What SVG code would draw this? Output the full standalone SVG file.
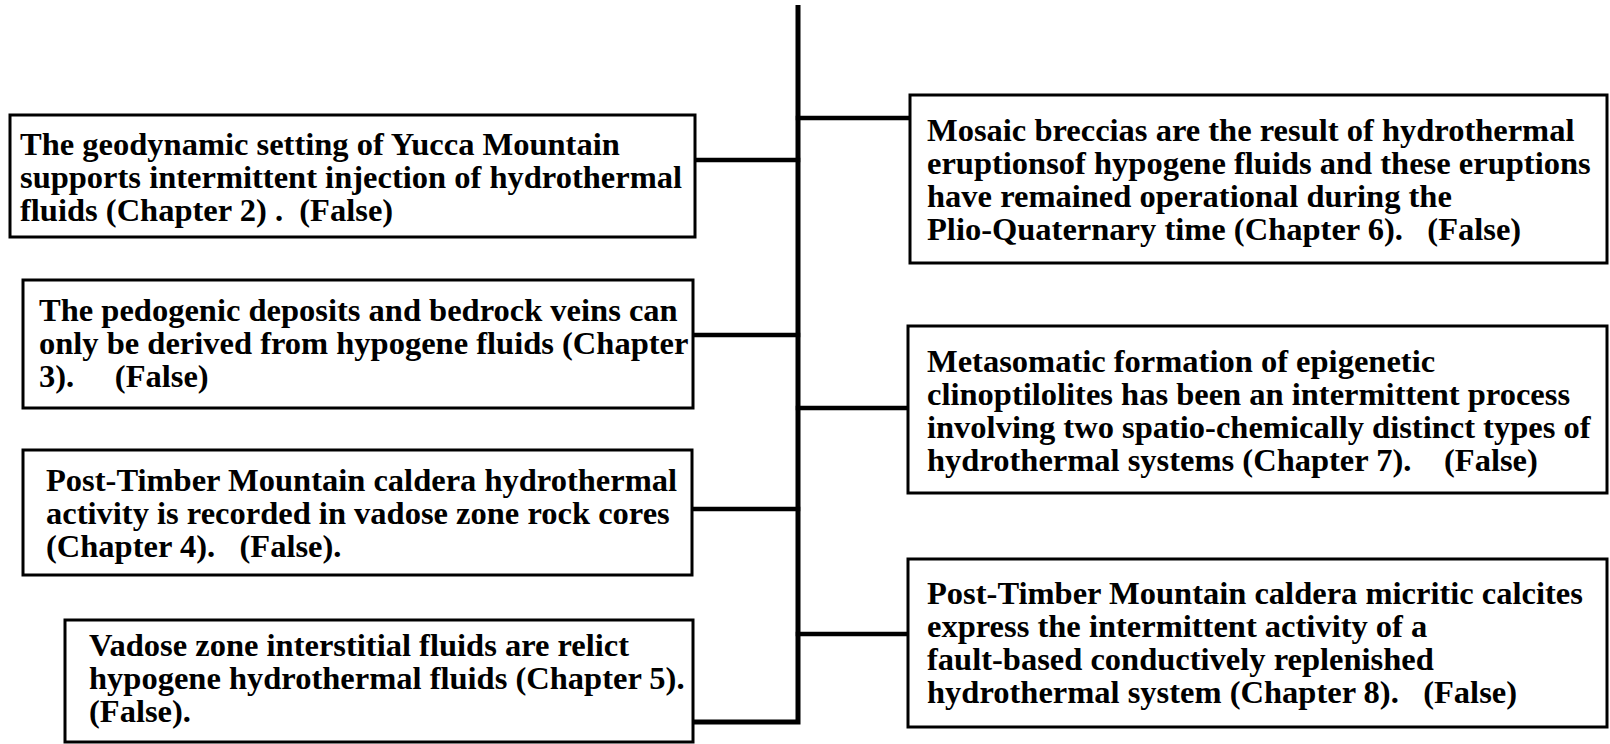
<svg xmlns="http://www.w3.org/2000/svg" width="1610" height="744" viewBox="0 0 1610 744">
  <style>
    .box { fill: #ffffff; stroke: #000000; stroke-width: 3; }
    .txt { font-family: "Liberation Serif", "Times New Roman", serif; font-weight: bold; font-size: 32.5px; fill: #000000; white-space: pre; }
    .wire { fill: none; stroke: #000000; stroke-width: 4.5; stroke-linecap: square; }
    .trunk { fill: none; stroke: #000000; stroke-width: 5; stroke-linejoin: miter; }
  </style>
  <rect width="1610" height="744" fill="#ffffff"/>

  <!-- central spine and branches -->
  <g id="connectors">
    <path class="trunk" d="M798,5 V722 H693"/>
    <path class="wire" d="M695,160 H798"/>
    <path class="wire" d="M693,335 H798"/>
    <path class="wire" d="M692,509 H798"/>
    <path class="wire" d="M798,118 H910"/>
    <path class="wire" d="M798,408 H908"/>
    <path class="wire" d="M798,634 H908"/>
  </g>

  <!-- left column -->
  <g id="node-ch2">
    <rect class="box" x="10" y="115" width="685" height="122"/>
    <text class="txt" x="20" y="155">The geodynamic setting of Yucca Mountain</text>
    <text class="txt" x="20" y="188">supports intermittent injection of hydrothermal</text>
    <text class="txt" x="20" y="221">fluids (Chapter 2) .  (False)</text>
  </g>
  <g id="node-ch3">
    <rect class="box" x="23" y="280" width="670" height="128"/>
    <text class="txt" x="39" y="321">The pedogenic deposits and bedrock veins can</text>
    <text class="txt" x="39" y="354">only be derived from hypogene fluids (Chapter</text>
    <text class="txt" x="39" y="387">3).     (False)</text>
  </g>
  <g id="node-ch4">
    <rect class="box" x="23" y="450" width="669" height="125"/>
    <text class="txt" x="46" y="491">Post-Timber Mountain caldera hydrothermal</text>
    <text class="txt" x="46" y="524">activity is recorded in vadose zone rock cores</text>
    <text class="txt" x="46" y="557">(Chapter 4).   (False).</text>
  </g>
  <g id="node-ch5">
    <rect class="box" x="65" y="620" width="628" height="122"/>
    <text class="txt" x="89" y="656">Vadose zone interstitial fluids are relict</text>
    <text class="txt" x="89" y="689">hypogene hydrothermal fluids (Chapter 5).</text>
    <text class="txt" x="89" y="722">(False).</text>
  </g>

  <!-- right column -->
  <g id="node-ch6">
    <rect class="box" x="910" y="95" width="697" height="168"/>
    <text class="txt" x="927" y="141">Mosaic breccias are the result of hydrothermal</text>
    <text class="txt" x="927" y="174">eruptionsof hypogene fluids and these eruptions</text>
    <text class="txt" x="927" y="207">have remained operational during the</text>
    <text class="txt" x="927" y="240">Plio-Quaternary time (Chapter 6).   (False)</text>
  </g>
  <g id="node-ch7">
    <rect class="box" x="908" y="326" width="699" height="167"/>
    <text class="txt" x="927" y="372">Metasomatic formation of epigenetic</text>
    <text class="txt" x="927" y="405">clinoptilolites has been an intermittent process</text>
    <text class="txt" x="927" y="438">involving two spatio-chemically distinct types of</text>
    <text class="txt" x="927" y="471">hydrothermal systems (Chapter 7).    (False)</text>
  </g>
  <g id="node-ch8">
    <rect class="box" x="908" y="559" width="699" height="168"/>
    <text class="txt" x="927" y="604">Post-Timber Mountain caldera micritic calcites</text>
    <text class="txt" x="927" y="637">express the intermittent activity of a</text>
    <text class="txt" x="927" y="670">fault-based conductively replenished</text>
    <text class="txt" x="927" y="703">hydrothermal system (Chapter 8).   (False)</text>
  </g>
</svg>
